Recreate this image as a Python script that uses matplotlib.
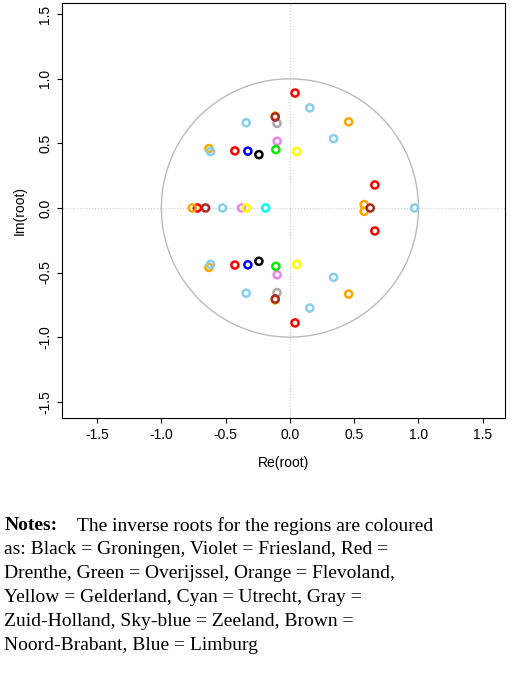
import matplotlib
matplotlib.use("Agg")
import matplotlib.pyplot as plt
import numpy as np

plt.rcParams['font.family'] = ['Liberation Sans', 'DejaVu Sans']

regions = ["Groningen", "Friesland", "Drenthe", "Overijssel", "Flevoland", "Gelderland",
           "Utrecht", "Zuid-Holland", "Zeeland", "Noord-Brabant", "Limburg"]
colors = ["black", "violet", "red", "#00ee00", "orange", "yellow", "cyan", "darkgray",
          "skyblue", "brown", "blue"]

re_groningen = [-0.241, -0.241]
im_groningen = [0.413, -0.413]
re_friesland = [-0.099, -0.099, -0.376]
im_friesland = [0.517, -0.517, 0.0]
re_drenthe = [0.04, 0.04, -0.428, -0.428, 0.661, 0.661, -0.72]
im_drenthe = [0.89, -0.89, 0.442, -0.442, 0.178, -0.178, 0.0]
re_overijssel = [-0.109, -0.109]
im_overijssel = [0.452, -0.452]
re_flevoland = [-0.114, -0.114, 0.457, 0.457, -0.63, -0.63, -0.76, 0.578, 0.578]
im_flevoland = [0.712, -0.712, 0.667, -0.667, 0.46, -0.46, 0.0, 0.026, -0.026]
re_gelderland = [0.052, 0.052, -0.34]
im_gelderland = [0.437, -0.437, 0.0]
re_utrecht = [-0.189]
im_utrecht = [0.0]
re_zuidholland = [-0.10, -0.10]
im_zuidholland = [0.655, -0.655]
re_zeeland = [0.155, 0.155, -0.34, -0.34, 0.34, 0.34, -0.617, -0.617, -0.524, 0.97]
im_zeeland = [0.775, -0.775, 0.66, -0.66, 0.537, -0.537, 0.437, -0.437, 0.0, 0.0]
re_noordbrabant = [-0.114, -0.114, -0.656, 0.625]
im_noordbrabant = [0.705, -0.705, 0.0, 0.0]
re_limburg = [-0.327, -0.327]
im_limburg = [0.44, -0.44]

re_all = [re_groningen, re_friesland, re_drenthe, re_overijssel, re_flevoland, re_gelderland,
          re_utrecht, re_zuidholland, re_zeeland, re_noordbrabant, re_limburg]
im_all = [im_groningen, im_friesland, im_drenthe, im_overijssel, im_flevoland, im_gelderland,
          im_utrecht, im_zuidholland, im_zeeland, im_noordbrabant, im_limburg]

fig = plt.figure(figsize=(5.2, 6.89), dpi=100)
ax = fig.add_axes([0.119, 0.393, 0.852, 0.603])
t = np.linspace(0, 2 * np.pi, 400)
ax.plot(np.cos(t), np.sin(t), color="#bbbbbb", lw=1)
ax.axhline(0, color="#cccccc", ls=":", lw=0.8)
ax.axvline(0, color="#cccccc", ls=":", lw=0.8)
for r, i, c in zip(re_all, im_all, colors):
    ax.scatter(r, i, s=26, facecolors="none", edgecolors=c, linewidths=1.8, zorder=3)
ax.set_xlim(-1.774, 1.673)
ax.set_ylim(-1.628, 1.589)
ticks = [-1.5, -1.0, -0.5, 0.0, 0.5, 1.0, 1.5]
ax.set_xticks(ticks)
ax.set_yticks(ticks)
ax.set_xticklabels([f"{v:.1f}" for v in ticks], fontsize=10)
ax.set_yticklabels([f"{v:.1f}" for v in ticks], fontsize=10, rotation=90, va="center")
ax.set_xlabel("Re(root)", fontsize=10, labelpad=10)
ax.set_ylabel("Im(root)", fontsize=10, labelpad=8)

serif = ["Liberation Serif", "DejaVu Serif"]
y0 = 0.237
fig.text(0.008, y0, "Notes:", fontsize=14, family=serif, fontweight="bold", va="center")
fig.text(0.148, y0, "The inverse roots for the regions are coloured",
         fontsize=14, family=serif, va="center")
lines = [
    "as: Black = Groningen, Violet = Friesland, Red =",
    "Drenthe, Green = Overijssel, Orange = Flevoland,",
    "Yellow = Gelderland, Cyan = Utrecht, Gray =",
    "Zuid-Holland, Sky-blue = Zeeland, Brown =",
    "Noord-Brabant, Blue = Limburg",
]
for k, ln in enumerate(lines):
    fig.text(0.008, y0 - (k + 1) * 0.0348, ln, fontsize=14, family=serif, va="center")
fig.savefig("out.png", dpi=100)
